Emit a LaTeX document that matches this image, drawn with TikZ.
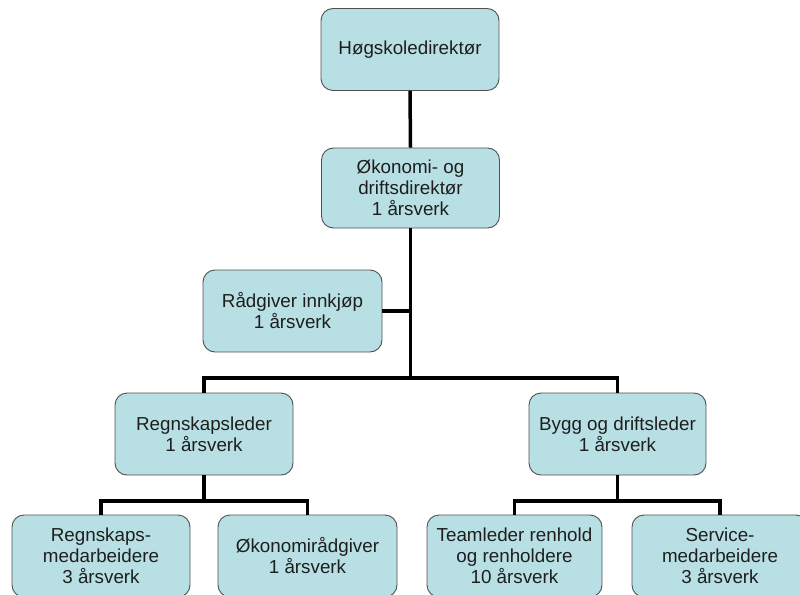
\documentclass[tikz,border=0pt]{standalone}
\usepackage{fontspec}
\setmainfont{Liberation Sans}
\definecolor{boxfill}{RGB}{184,224,228}
\definecolor{boxline}{RGB}{80,80,80}
\definecolor{txt}{RGB}{30,30,30}
\begin{document}
\begin{tikzpicture}[x=1pt,y=-1pt,
  orgbox/.style={draw=boxline, line width=0.9pt, fill=boxfill, rounded corners=12pt,
    minimum width=#1, minimum height=82pt, align=center, inner sep=2pt,
    text=txt, font=\fontsize{18.8}{21}\selectfont},
  orgbox/.default=178pt,
  link/.style={line width=3.5pt, black}]
\useasboundingbox (0,0) rectangle (800,594);
\node[orgbox] (h) at (410,49.5) {Høgskoledirektør};
\node[orgbox, minimum height=80pt] (o) at (410.5,188) {Økonomi- og\\driftsdirektør\\1 årsverk};
\node[orgbox=179pt] (r) at (292.5,311) {Rådgiver innkjøp\\1 årsverk};
\node[orgbox] (rl) at (204,434) {Regnskapsleder\\1 årsverk};
\node[orgbox=177pt] (b) at (617.5,434) {Bygg og driftsleder\\1 årsverk};
\node[orgbox] (m1) at (101,556) {Regnskaps-\\medarbeidere\\3 årsverk};
\node[orgbox=179pt] (m2) at (307.5,556) {Økonomirådgiver\\1 årsverk};
\node[orgbox=175pt] (t) at (514.5,556) {Teamleder renhold\\og renholdere\\10 årsverk};
\node[orgbox=176pt] (s) at (720,556) {Service-\\medarbeidere\\3 årsverk};
\coordinate (j1) at (410.5,378);
\coordinate (j2) at (204,501);
\coordinate (j3) at (617.5,501);
\draw[link] (h.south) -- (o.north);
\draw[link] (o.south) -- (j1);
\draw[link] (r.east) -- (r.east -| j1);
\draw[link] (rl.north) |- (j1) -| (b.north);
\draw[link] (rl.south) -- (j2);
\draw[link] (m1.north) |- (j2) -| (m2.north);
\draw[link] (b.south) -- (j3);
\draw[link] (t.north) |- (j3) -| (s.north);
\end{tikzpicture}
\end{document}
